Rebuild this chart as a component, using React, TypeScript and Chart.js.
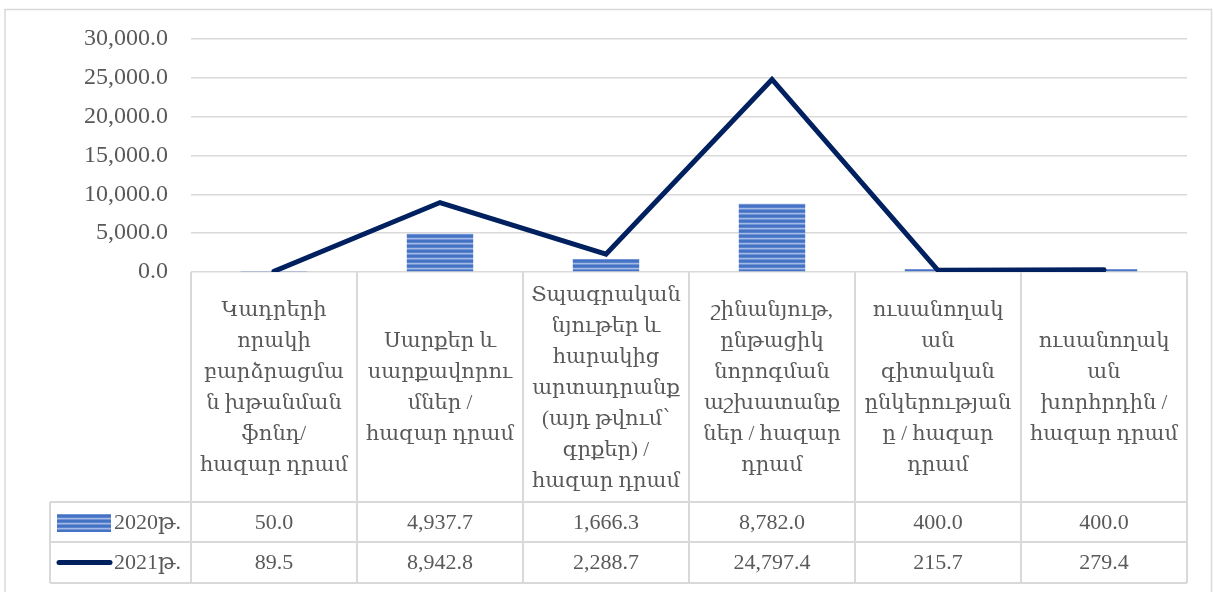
import React, { useEffect, useRef } from "react";
import { Chart, registerables } from "chart.js";

Chart.register(...registerables);

// ---- Data ----
const categories: string[][] = [
  ["Կադրերի", "որակի", "բարձրացմա", "ն խթանման", "ֆոնդ/", "հազար դրամ"],
  ["Սարքեր և", "սարքավորու", "մներ /", "հազար դրամ"],
  ["Տպագրական", "նյութեր և", "հարակից", "արտադրանք", "(այդ թվում՝", "գրքեր) /", "հազար դրամ"],
  ["շինանյութ,", "ընթացիկ", "նորոգման", "աշխատանք", "ներ / հազար", "դրամ"],
  ["ուսանողակ", "ան", "գիտական", "ընկերության", "ը / հազար", "դրամ"],
  ["ուսանողակ", "ան", "խորհրդին /", "հազար դրամ"],
];
const seriesLabels = ["2020թ.", "2021թ."];
const values2020 = [50.0, 4937.7, 1666.3, 8782.0, 400.0, 400.0];
const values2021 = [89.5, 8942.8, 2288.7, 24797.4, 215.7, 279.4];
const yMin = 0;
const yMax = 30000;
const yStep = 5000;

// ---- Style ----
const FONT = '"Liberation Serif", "DejaVu Serif", serif';
const TEXT = "#595959";
const GRID = "#d9d9d9";
const LINE_COLOR = "#002060";
const FS = 22;
const FS_HEAD = 21;
const FS_TICK = 24;

const fmt = (v: number) =>
  v.toLocaleString("en-US", { minimumFractionDigits: 1, maximumFractionDigits: 1 });

function makePattern(): CanvasPattern | string {
  const c = document.createElement("canvas");
  c.width = 4;
  c.height = 5;
  const g = c.getContext("2d");
  if (!g) return "#4472c4";
  const rows = ["#4472c4", "#4472c4", "#5b84cc", "#a3bbe6", "#7394d4"];
  rows.forEach((col, i) => {
    g.fillStyle = col;
    g.fillRect(0, i, 4, 1);
  });
  return g.createPattern(c, "repeat") || "#4472c4";
}

export default function App() {
  const ref = useRef<HTMLCanvasElement | null>(null);

  useEffect(() => {
    const canvas = ref.current;
    if (!canvas) return;
    const pattern = makePattern();

    const tablePlugin = {
      id: "dataTable",
      afterDraw(chart: any) {
        const ctx: CanvasRenderingContext2D = chart.ctx;
        const ca = chart.chartArea;
        const n = categories.length;
        const colW = (ca.right - ca.left) / n;
        const top = ca.bottom;
        const headBottom = 502;
        const row1Bottom = 542;
        const row2Bottom = 583;
        const left = 50;

        ctx.save();
        // outer frame
        ctx.strokeStyle = GRID;
        ctx.lineWidth = 1.5;
        ctx.strokeRect(5, 9.5, 1206.5, 600);

        // table grid
        ctx.lineWidth = 2;
        ctx.strokeStyle = GRID;
        ctx.beginPath();
        [headBottom, row1Bottom, row2Bottom].forEach((y) => {
          ctx.moveTo(left, y);
          ctx.lineTo(ca.right, y);
        });
        ctx.moveTo(left, headBottom);
        ctx.lineTo(left, row2Bottom);
        for (let i = 0; i <= n; i++) {
          const x = Math.round(ca.left + i * colW);
          ctx.moveTo(x, top);
          ctx.lineTo(x, row2Bottom);
        }
        ctx.stroke();

        // header texts
        ctx.fillStyle = TEXT;
        ctx.font = `${FS_HEAD}px ${FONT}`;
        ctx.textAlign = "center";
        ctx.textBaseline = "middle";
        const headCenter = (top + headBottom) / 2 + 1;
        const lh = 31;
        categories.forEach((lines, i) => {
          const cx = ca.left + (i + 0.5) * colW;
          lines.forEach((t, j) => {
            ctx.fillText(t, cx, headCenter + (j - (lines.length - 1) / 2) * lh);
          });
        });

        // values
        ctx.font = `${FS}px ${FONT}`;
        const r1 = (headBottom + row1Bottom) / 2 + 1;
        const r2 = (row1Bottom + row2Bottom) / 2 + 1;
        values2020.forEach((v, i) => {
          ctx.fillText(fmt(v), ca.left + (i + 0.5) * colW, r1);
        });
        values2021.forEach((v, i) => {
          ctx.fillText(fmt(v), ca.left + (i + 0.5) * colW, r2);
        });

        // legend keys
        ctx.fillStyle = pattern as any;
        ctx.fillRect(57, r1 - 9, 54, 18);
        ctx.strokeStyle = LINE_COLOR;
        ctx.lineWidth = 5;
        ctx.lineCap = "round";
        ctx.beginPath();
        ctx.moveTo(59, r2 - 1);
        ctx.lineTo(110, r2 - 1);
        ctx.stroke();

        ctx.fillStyle = TEXT;
        ctx.textAlign = "left";
        ctx.fillText(seriesLabels[0], 114, r1);
        ctx.fillText(seriesLabels[1], 114, r2);
        ctx.restore();
      },
    };

    const chart = new Chart(canvas, {
      type: "bar",
      data: {
        labels: categories.map((c) => c.join(" ")),
        datasets: [
          {
            type: "line",
            label: seriesLabels[1],
            data: values2021,
            borderColor: LINE_COLOR,
            backgroundColor: LINE_COLOR,
            borderWidth: 5,
            pointRadius: 0,
            tension: 0,
            borderCapStyle: "round",
            order: 0,
          } as any,
          {
            type: "bar",
            label: seriesLabels[0],
            data: values2020,
            backgroundColor: pattern as any,
            borderWidth: 0,
            categoryPercentage: 1,
            barPercentage: 0.4,
            order: 1,
          } as any,
        ],
      },
      options: {
        responsive: false,
        animation: false,
        devicePixelRatio: 1,
        layout: { padding: { top: 39, right: 26, bottom: 320, left: 0 } },
        plugins: {
          legend: { display: false },
          tooltip: { enabled: false },
          title: { display: false },
        },
        scales: {
          x: { display: false, offset: true },
          y: {
            min: yMin,
            max: yMax,
            afterFit(scale: any) {
              scale.width = 191;
            },
            border: { display: false },
            grid: { color: GRID, lineWidth: 1.5, drawTicks: false },
            ticks: {
              stepSize: yStep,
              padding: 23,
              color: TEXT,
              font: { family: FONT, size: FS_TICK },
              callback: (v: any) => fmt(Number(v)),
            },
          },
        },
      },
      plugins: [tablePlugin],
    });

    return () => chart.destroy();
  }, []);

  return (
    <canvas
      ref={ref}
      width={1213}
      height={592}
      style={{ position: "absolute", left: 0, top: 0, width: 1213, height: 592 }}
    />
  );
}
